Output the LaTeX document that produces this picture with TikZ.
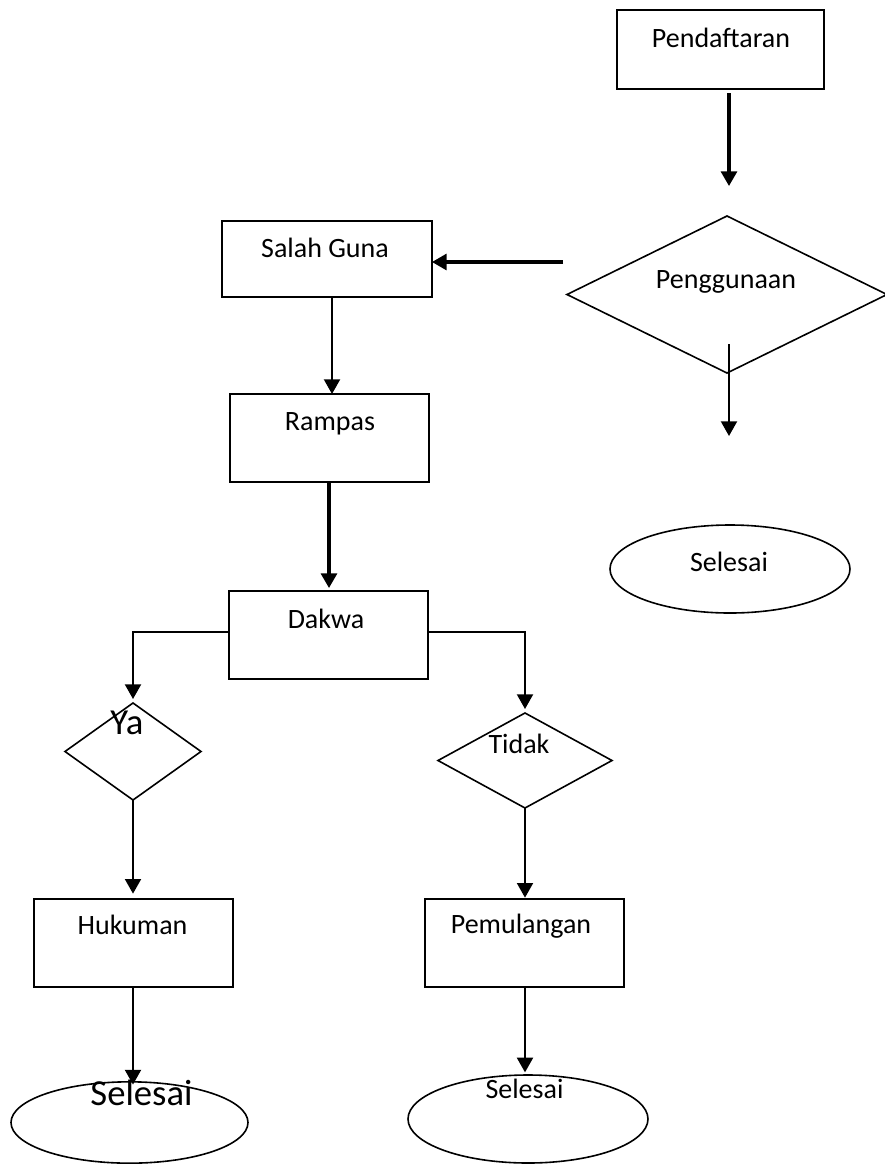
\documentclass[tikz,border=0pt]{standalone}
\usepackage{fontspec}
\setmainfont{Carlito}
\usetikzlibrary{shapes.geometric,arrows.meta}
\tikzset{
  box/.style={draw, rectangle, line width=1.4pt, inner sep=0pt, outer sep=0pt},
  dia/.style={draw, diamond, line width=1.2pt, inner sep=0pt, outer sep=0pt},
  oval/.style={draw, ellipse, line width=1.2pt, inner sep=0pt, outer sep=0pt},
  txt/.style={inner sep=0pt, anchor=base, font=\fontsize{21pt}{24pt}\selectfont},
  bigtxt/.style={inner sep=0pt, anchor=base, font=\fontsize{27.5pt}{32pt}\selectfont},
  conn/.style={line width=1.5pt, -{Triangle[width=12pt,length=11pt]}},
  thickconn/.style={line width=2.3pt, -{Triangle[width=12pt,length=11pt]}},
}
\begin{document}
\begin{tikzpicture}[x=0.75pt,y=-0.75pt]
\useasboundingbox (0,0) rectangle (885,1165);
% boxes
\node[box, minimum width=155.25pt, minimum height=59.25pt] (pend) at (720.5,49.5) {};
\node[box, minimum width=157.5pt, minimum height=57pt] (salah) at (327,259) {};
\node[box, minimum width=149.25pt, minimum height=66pt] (rampas) at (329.5,438) {};
\node[box, minimum width=149.25pt, minimum height=66pt] (dakwa) at (328.5,635) {};
\node[box, minimum width=149.25pt, minimum height=66pt] (hukuman) at (133.5,943) {};
\node[box, minimum width=149.25pt, minimum height=66pt] (pemulangan) at (524.5,943) {};
% diamonds
\node[dia, minimum width=240pt, minimum height=117.75pt, shape aspect=2.04] (pengg) at (727,294.5) {};
\node[dia, minimum width=102pt, minimum height=72.75pt, shape aspect=1.4] (ya) at (133,751.5) {};
\node[dia, minimum width=130.5pt, minimum height=71.25pt, shape aspect=1.83] (tidak) at (525,760.5) {};
% ellipses
\node[oval, minimum width=180pt, minimum height=66pt] (selR) at (730,569) {};
\node[oval, minimum width=177.75pt, minimum height=61pt] (selL) at (129.5,1122.5) {};
\node[oval, minimum width=180pt, minimum height=66pt] (selM) at (528,1119) {};
% texts
\node[txt] (tpend) at (721,47) {Pendaftaran};
\node[txt] (tpengg) at (726,288) {Penggunaan};
\node[txt] (tselR) at (729,571) {Selesai};
\node[txt] (tsalah) at (325,257) {Salah Guna};
\node[txt] (trampas) at (330,430) {Rampas};
\node[txt] (tdakwa) at (326,628) {Dakwa};
\node[bigtxt] (tya) at (127,734) {Ya};
\node[txt] (ttidak) at (519,753) {Tidak};
\node[txt] (thuk) at (132.5,934) {Hukuman};
\node[txt] (tpem) at (521,933) {Pemulangan};
\node[bigtxt] (tselL) at (141.5,1105) {Selesai};
\node[txt] (tselM) at (524.5,1098) {Selesai};
% free connector ends
\coordinate (a1s) at (729,93);
\coordinate (a1e) at (729,186);
\coordinate (a2s) at (563,262);
\coordinate (a3s) at (729,344);
\coordinate (a3e) at (729,436);
\coordinate (a4s) at (332,297);
\coordinate (a4e) at (332,394);
\coordinate (a5s) at (329,482);
\coordinate (a5e) at (329,588);
\coordinate (kL) at (133,632);
\coordinate (kR) at (525,632);
\coordinate (xL) at (133,0);
\coordinate (xR) at (525,0);
% connectors
\draw[thickconn] (a1s) -- (a1e);
\draw[thickconn] (a2s) -- (a2s -| salah.east);
\draw[conn] (a3s) -- (a3e);
\draw[conn] (a4s) -- (a4e);
\draw[thickconn] (a5s) -- (a5e);
\draw[conn] (kL -| dakwa.west) -- (kL) -- ([yshift=3pt]ya.north);
\draw[conn] (kR -| dakwa.east) -- (kR) -- ([yshift=3pt]tidak.north);
\draw[conn] (ya.south) -- ([yshift=4pt]hukuman.north -| xL);
\draw[conn] (tidak.south) -- ([yshift=1pt]pemulangan.north -| xR);
\draw[conn] (hukuman.south -| xL) -- ([yshift=-2pt]selL.north -| xL);
\draw[conn] (pemulangan.south -| xR) -- ([yshift=2pt]selM.north -| xR);
\end{tikzpicture}
\end{document}
